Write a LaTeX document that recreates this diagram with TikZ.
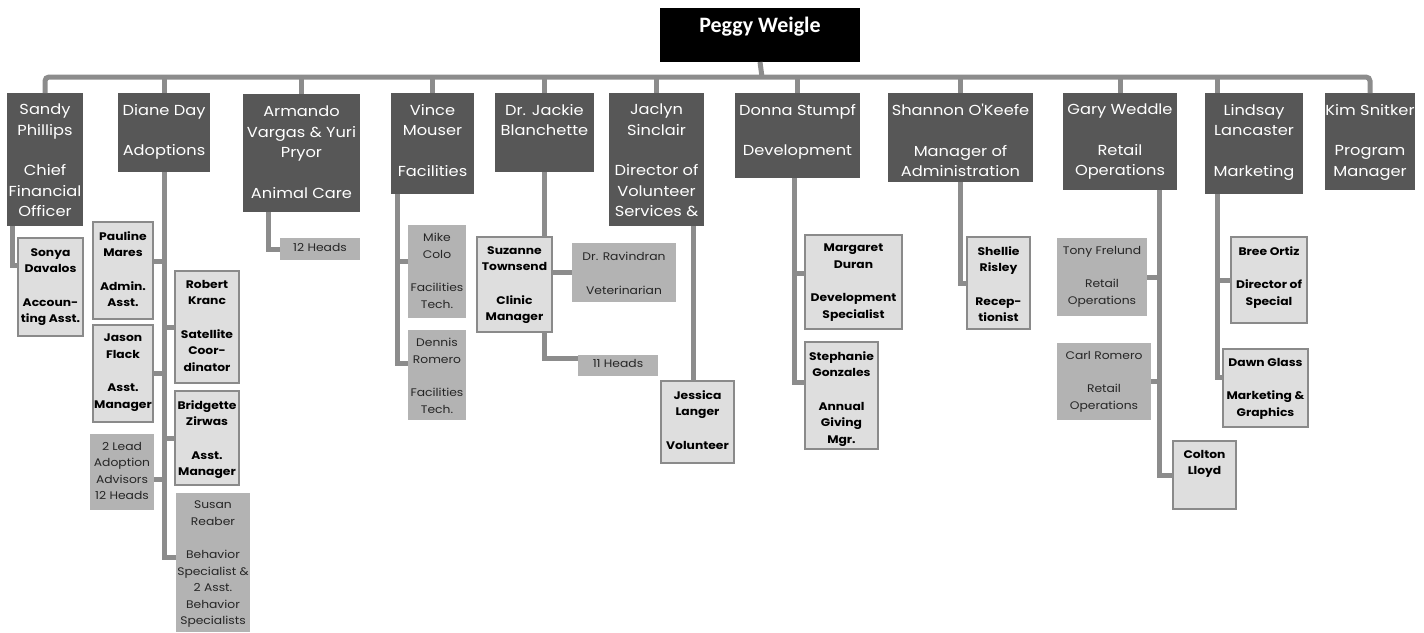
\documentclass[tikz,border=0pt]{standalone}
\usepackage{fontspec}
\setmainfont{Poppins}
\newfontfamily\wideface[FakeStretch=1.12]{Poppins}
\newfontfamily\peggyfont{Carlito}
\definecolor{darkc}{HTML}{575757}
\definecolor{lightc}{HTML}{DEDEDE}
\definecolor{bordc}{HTML}{8A8A8A}
\definecolor{midc}{HTML}{B3B3B3}
\definecolor{connc}{HTML}{8C8C8C}
\tikzset{
  conn/.style={draw=connc, line width=5pt},
  darkbox/.style={fill=darkc, draw=none, inner sep=0pt, outer sep=0pt},
  lightbox/.style={fill=lightc, draw=bordc, line width=1.3pt, inner sep=0pt, outer sep=0pt},
  midbox/.style={fill=midc, draw=none, inner sep=0pt, outer sep=0pt},
  darktext/.style={text=white, align=center, inner sep=0pt, font=\wideface\fontsize{14.5}{20.5}\selectfont},
  lighttext/.style={text=black, align=center, inner sep=0pt, font=\wideface\fontsize{11}{16.5}\selectfont\bfseries},
  midtext/.style={text=black!85, align=center, inner sep=0pt, font=\wideface\fontsize{11}{16.5}\selectfont},
}
\newcommand\obox[8]{%
  \node[#2box, minimum width={(#5-#3)*1pt}, minimum height={(#6-#4)*1pt}] (#1) at ({(#3+#5)/2},{(#4+#6)/2}) {};
  \node[#2text, anchor=north] (#1-t) at ([yshift=-#7pt]#1.north) {#8};}
\begin{document}
\begin{tikzpicture}[x=1pt,y=-1pt]
\useasboundingbox[fill=white] (0,0) rectangle (1424,632);
% root
\node[fill=black, minimum width=200pt, minimum height=54pt, inner sep=0pt, outer sep=0pt] (peggy) at (760,35) {};
\node[text=white, font=\peggyfont\fontsize{22}{24}\selectfont\bfseries, anchor=north, inner sep=0pt] (peggy-t) at ([yshift=-9pt]peggy.north) {Peggy Weigle};
% top level
\obox{sandy}{dark}{7}{93}{83}{226}{11}{Sandy\\Phillips\\[20pt]Chief\\Financial\\Officer}
\obox{diane}{dark}{118}{93}{210}{172}{11}{Diane Day\\[20pt]Adoptions}
\obox{armando}{dark}{243}{94}{360}{212}{12}{Armando\\Vargas \& Yuri\\Pryor\\[20pt]Animal Care}
\obox{vince}{dark}{391}{93}{474}{194}{11}{Vince\\Mouser\\[20pt]Facilities}
\obox{jackie}{dark}{495}{93}{594}{172}{11}{Dr. Jackie\\Blanchette}
\obox{jaclyn}{dark}{609}{93}{704}{226}{11}{Jaclyn\\Sinclair\\[20pt]Director of\\Volunteer\\Services \&}
\obox{donna}{dark}{735}{93}{860}{178}{11}{Donna Stumpf\\[20pt]Development}
\obox{shannon}{dark}{888}{93}{1033}{182}{11}{Shannon O'Keefe\\[20pt]Manager of\\Administration}
\obox{gary}{dark}{1063}{93}{1177}{190}{11}{Gary Weddle\\[20pt]Retail\\Operations}
\obox{lindsay}{dark}{1205}{93}{1303}{194}{11}{Lindsay\\Lancaster\\[20pt]Marketing}
\obox{kim}{dark}{1325}{93}{1415}{190}{11}{Kim Snitker\\[20pt]Program\\Manager}
% children
\obox{sonya}{light}{18}{238}{83}{336}{10}{Sonya\\Davalos\\[17pt]Accoun-\\ting Asst.}
\obox{pauline}{light}{93}{222}{153}{319}{9}{Pauline\\Mares\\[17pt]Admin.\\Asst.}
\obox{robert}{light}{175}{271}{239}{383}{9}{Robert\\Kranc\\[17pt]Satellite\\Coor-\\dinator}
\obox{jason}{light}{93}{325}{153}{422}{9}{Jason\\Flack\\[17pt]Asst.\\Manager}
\obox{bridgette}{light}{175}{391}{239}{485}{9}{Bridgette\\Zirwas\\[17pt]Asst.\\Manager}
\obox{lead}{mid}{90}{434}{154}{510}{8}{2 Lead\\Adoption\\Advisors\\12 Heads}
\obox{susan}{mid}{176}{493}{250}{632}{8}{Susan\\Reaber\\[17pt]Behavior\\Specialist \&\\2 Asst.\\Behavior\\Specialists}
\obox{heads12}{mid}{280}{238}{360}{260}{5}{12 Heads}
\obox{mike}{mid}{408}{225}{466}{318}{8}{Mike\\Colo\\[17pt]Facilities\\Tech.}
\obox{dennis}{mid}{408}{330}{466}{420}{8}{Dennis\\Romero\\[17pt]Facilities\\Tech.}
\obox{suzanne}{light}{477}{237}{552}{332}{9}{Suzanne\\Townsend\\[17pt]Clinic\\Manager}
\obox{ravindran}{mid}{572}{243}{676}{302}{9}{Dr. Ravindran\\[17pt]Veterinarian}
\obox{heads11}{mid}{578}{355}{658}{376}{4}{11 Heads}
\obox{jessica}{light}{661}{381}{734}{463}{9}{Jessica\\Langer\\[17pt]Volunteer}
\obox{margaret}{light}{805}{235}{902}{329}{9}{Margaret\\Duran\\[17pt]Development\\Specialist}
\obox{stephanie}{light}{805}{342}{878}{449}{9}{Stephanie\\Gonzales\\[17pt]Annual\\Giving\\Mgr.}
\obox{shellie}{light}{967}{237}{1030}{329}{9}{Shellie\\Risley\\[17pt]Recep-\\tionist}
\obox{tony}{mid}{1057}{238}{1147}{316}{8}{Tony Frelund\\[17pt]Retail\\Operations}
\obox{carl}{mid}{1057}{343}{1151}{420}{8}{Carl Romero\\[17pt]Retail\\Operations}
\obox{colton}{light}{1173}{441}{1236}{509}{9}{Colton\\Lloyd}
\obox{bree}{light}{1231}{237}{1307}{323}{9}{Bree Ortiz\\[17pt]Director of\\Special}
\obox{dawn}{light}{1223}{349}{1308}{427}{9}{Dawn Glass\\[17pt]Marketing \&\\Graphics}
% top connectors
\coordinate (bar) at (762,77);
\coordinate (lindsayDrop) at (1217,93);
\draw[conn] (peggy.south) -- (bar);
\draw[conn, rounded corners=4pt] (sandy.north) |- (bar) -| (kim.north);
\foreach \n in {diane,armando,vince,jackie,jaclyn,donna,shannon,gary}
  \draw[conn] (\n.north) -- (\n.north |- bar);
\draw[conn] (lindsayDrop) -- (lindsayDrop |- bar);
% Sandy
\coordinate (sandyB) at (12,226);
\draw[conn] (sandyB) |- ([yshift=22pt]sonya.west);
% Diane
\draw[conn] (diane.south) |- ([yshift=5pt]susan.west);
\draw[conn] ([yshift=9pt]pauline.east) -- ++(12,0);
\draw[conn] (robert.west) -- ++(-12,0);
\draw[conn] (jason.east) -- ++(12,0);
\draw[conn] (bridgette.west) -- ++(-12,0);
\draw[conn] ([yshift=-7pt]lead.east) -- ++(11,0);
% Armando
\coordinate (armB) at (268,212);
\draw[conn] (armB) |- (heads12.west);
% Vince
\coordinate (vinceB) at (397,194);
\draw[conn] (vinceB) |- ([yshift=12pt]dennis.west);
\draw[conn] ([yshift=10pt]mike.west) -- ++(-12,0);
% Jackie
\draw[conn] (jackie.south) -- (jackie.south |- suzanne.north);
\draw[conn] (ravindran.west) -- (ravindran.west -| suzanne.east);
\draw[conn] (suzanne.south -| jackie.south) |- ([yshift=7pt]heads11.west);
% Jaclyn
\draw[conn] ([xshift=-4pt]jessica.north) -- ([xshift=-4pt]jessica.north |- jaclyn.south);
% Donna
\draw[conn] ([xshift=-3pt]donna.south) |- ([yshift=13pt]stephanie.west);
\draw[conn] ([yshift=9pt]margaret.west) -- ++(-12,0);
% Shannon
\draw[conn] (shannon.south) |- (shellie.west);
% Gary
\coordinate (garyB) at (1159,190);
\draw[conn] (garyB) |- (colton.west);
\draw[conn] (tony.east) -- ++(13,0);
\draw[conn] (carl.east) -- ++(9,0);
% Lindsay
\coordinate (linB) at (1217,194);
\draw[conn] (linB) |- ([yshift=11pt]dawn.west);
\draw[conn] (bree.west) -- ++(-15,0);
\end{tikzpicture}
\end{document}
